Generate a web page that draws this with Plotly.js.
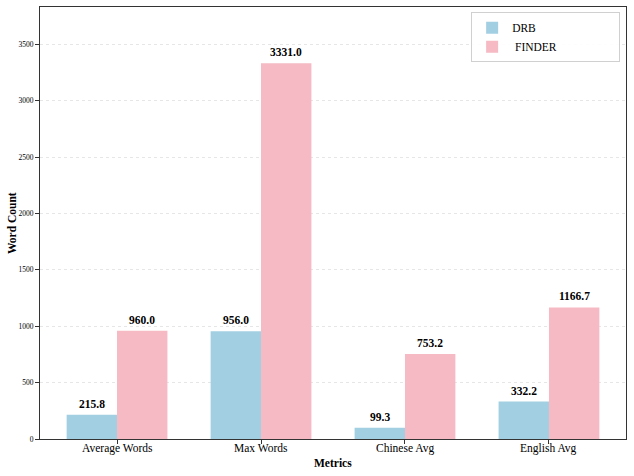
<!DOCTYPE html>
<html>
<head>
<meta charset="utf-8">
<script src="https://cdn.plot.ly/plotly-3.0.1.min.js"></script>
<style>html,body{margin:0;padding:0;background:#fff;}#chart{width:634px;height:476px;}</style>
</head>
<body>
<div id="chart"></div>
<script>
const categories = ["Average Words", "Max Words", "Chinese Avg", "English Avg"];
const drbValues = [215.8, 956.0, 99.3, 332.2];
const finderValues = [960.0, 3331.0, 753.2, 1166.7];
const seriesNames = ["DRB", " FINDER"];
const yTicks = [0, 500, 1000, 1500, 2000, 2500, 3000, 3500];

const xIdx = categories.map((_, i) => i);
const w = 0.35;
const font = "Liberation Serif, Times New Roman, serif";
const pad = "\u00a0".repeat(20);

const traces = [
  {type: "bar", name: seriesNames[0] + pad, x: xIdx.map(i => i - w/2), y: drbValues, width: w,
   marker: {color: "#a3cfe2"}},
  {type: "bar", name: seriesNames[1] + pad, x: xIdx.map(i => i + w/2), y: finderValues, width: w,
   marker: {color: "#f5bac3"}}
];

const annotations = [];
[[drbValues, -w/2], [finderValues, w/2]].forEach(([vals, off]) => {
  vals.forEach((v, i) => {
    annotations.push({x: i + off, y: v, xref: "x", yref: "y", text: "<b>" + v.toFixed(1) + "</b>",
      showarrow: false, yanchor: "bottom", yshift: 3, font: {family: font, size: 11.5, color: "#000"}});
  });
});
categories.forEach((c, i) => {
  annotations.push({x: i, y: 0, xref: "x", yref: "paper", text: c, showarrow: false,
    yanchor: "top", yshift: -1, font: {family: font, size: 11.5, color: "#000"}});
});
annotations.push({x: 0.5, y: 0, xref: "paper", yref: "paper", text: "<b>Metrics</b>", showarrow: false,
  yanchor: "top", yshift: -16, font: {family: font, size: 11.5, color: "#000"}});
annotations.push({x: 0, y: 0.5, xref: "paper", yref: "paper", text: "<b>Word Count</b>", showarrow: false,
  textangle: -90, xanchor: "center", yanchor: "middle", xshift: -28, font: {family: font, size: 11.5, color: "#000"}});

const ymax = Math.max(...finderValues, ...drbValues) * 1.15;

const layout = {
  width: 634, height: 476,
  margin: {l: 40, r: 8, t: 7, b: 37},
  paper_bgcolor: "#fff", plot_bgcolor: "#fff",
  font: {family: font, color: "#000"},
  barmode: "overlay",
  xaxis: {
    range: [-0.535, 3.535], tickvals: xIdx, ticktext: categories, showticklabels: false,
    ticks: "outside", ticklen: 4, tickcolor: "#333",
    showline: true, linecolor: "#333", linewidth: 1, mirror: true, showgrid: false, zeroline: false
  },
  yaxis: {
    range: [0, ymax], tickvals: yTicks, ticktext: yTicks.map(String),
    tickfont: {family: font, size: 7.5}, ticks: "outside", ticklen: 4, tickcolor: "#333",
    showline: true, linecolor: "#333", linewidth: 1, mirror: true,
    showgrid: true, gridcolor: "#e6e6e6", griddash: "dot", gridwidth: 1, zeroline: false
  },
  legend: {
    x: 0.99, y: 0.988, xanchor: "right", yanchor: "top",
    bgcolor: "rgba(255,255,255,0.9)", bordercolor: "#d0d0d0", borderwidth: 1,
    font: {family: font, size: 11.5}, itemwidth: 30
  },
  showlegend: true,
  annotations: annotations
};

Plotly.newPlot("chart", traces, layout, {displayModeBar: false, staticPlot: true});
</script>
</body>
</html>
